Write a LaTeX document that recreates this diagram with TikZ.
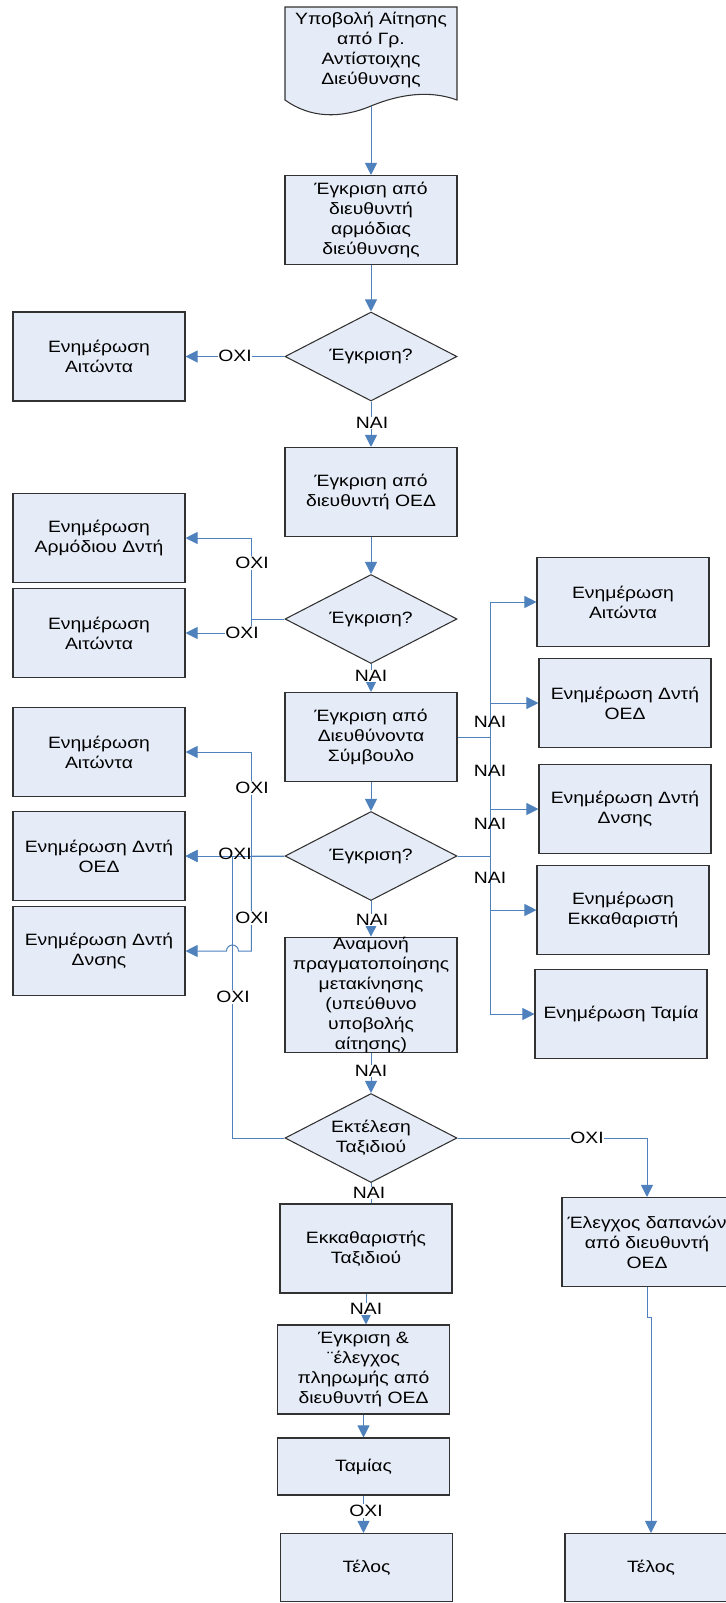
\documentclass[tikz,border=0pt]{standalone}
\usepackage{fontspec}
\setmainfont{Liberation Sans}[FakeStretch=1.18]
\usetikzlibrary{shapes.geometric,arrows.meta}
\definecolor{boxfill}{RGB}{230,236,247}
\definecolor{boxline}{RGB}{50,50,50}
\definecolor{conn}{RGB}{79,129,189}
\begin{document}
\begin{tikzpicture}[x=0.75pt,y=-0.75pt,
  font=\fontsize{12.3pt}{15pt}\selectfont,
  box/.style={draw=boxline, fill=boxfill, line width=0.8pt, minimum width=129pt, minimum height=66.75pt, align=center, inner sep=0pt},
  dia/.style={diamond, draw=boxline, fill=boxfill, line width=0.8pt, minimum width=129pt, minimum height=66.75pt, align=center, inner sep=0pt, aspect=1.93},
  arr/.style={draw=conn, line width=0.75pt, -{Triangle[length=9pt,width=9pt]}},
  ln/.style={draw=conn, line width=0.75pt},
  lab/.style={fill=white, inner sep=0.6pt},
  labt/.style={inner sep=0.6pt}]
\useasboundingbox (0,0) rectangle (725,1603);

% document shape
\filldraw[fill=boxfill, draw=boxline, line width=0.8pt] (285,7) -- (457,7) -- (457,100)
  .. controls (430,90) and (400,94) .. (371,106)
  .. controls (340,119) and (310,118) .. (285,100) -- cycle;
\node[align=center, inner sep=0pt] (doc) at (371,50) {Υποβολή Αίτησης\\από Γρ.\\Αντίστοιχης\\Διεύθυνσης};
\coordinate (docb) at (371,106);

% main column
\node[box] (b2) at (371,220) {Έγκριση από\\διευθυντή\\αρμόδιας\\διεύθυνσης};
\node[dia] (d1) at (371,356.5) {Έγκριση?};
\node[box] (L1) at (99,356.5) {Ενημέρωση\\Αιτώντα};
\node[box] (b4) at (371,492) {Έγκριση από\\διευθυντή ΟΕΔ};
\node[dia] (d2) at (371,619) {Έγκριση?};
\node[box] (L2) at (99,538) {Ενημέρωση\\Αρμόδιου Δντή};
\node[box] (L3) at (99,633) {Ενημέρωση\\Αιτώντα};
\node[box] (DS) at (371,737) {Έγκριση από\\Διευθύνοντα\\Σύμβουλο};
\node[dia] (d3) at (371,856) {Έγκριση?};
\node[box] (L4) at (99,752) {Ενημέρωση\\Αιτώντα};
\node[box] (L5) at (99,856) {Ενημέρωση Δντή\\ΟΕΔ};
\node[box] (L6) at (99,951) {Ενημέρωση Δντή\\Δνσης};
\node[box] (R1) at (623,602) {Ενημέρωση\\Αιτώντα};
\node[box] (R2) at (625,703) {Ενημέρωση Δντή\\ΟΕΔ};
\node[box] (R3) at (625,809) {Ενημέρωση Δντή\\Δνσης};
\node[box] (R4) at (623,910) {Ενημέρωση\\Εκκαθαριστή};
\node[box] (R5) at (621,1014) {Ενημέρωση Ταμία};
\node[box, minimum height=79.5pt] (W) at (371,995) {Αναμονή\\πραγματοποίησης\\μετακίνησης\\(υπεύθυνο\\υποβολής\\αίτησης)};
\node[dia] (d4) at (371,1138) {Εκτέλεση\\Ταξιδιού};
\node[box, minimum width=127.5pt] (E) at (647,1242) {Έλεγχος δαπανών\\από διευθυντή\\ΟΕΔ};
\node[box] (K) at (366,1248.5) {Εκκαθαριστής\\Ταξιδιού};
\node[box] (P) at (363.5,1369.5) {Έγκριση \&\\¨έλεγχος\\πληρωμής από\\διευθυντή ΟΕΔ};
\node[box, minimum height=42.75pt] (T) at (363.5,1466.5) {Ταμίας};
\node[box, minimum height=51pt] (End1) at (366.5,1567.5) {Τέλος};
\node[box, minimum height=51pt] (End2) at (651,1567.5) {Τέλος};

% connectors
\draw[arr] (docb) -- (b2.north);
\draw[arr] (b2.south) -- (d1.north);
\draw[arr] (d1.west) -- (L1.east);
\draw[arr] (d1.south) -- (b4.north);
\draw[arr] (b4.south) -- (d2.north);
\draw[arr] (d2.west) -- ++(-33,0) |- (L2.east);
\draw[arr] (d2.west) -- ++(-33,0) |- (L3.east);
\draw[arr] (d2.south) -- (DS.north);
\draw[arr] (DS.south) -- (d3.north);
\draw[arr] (d3.west) -- ++(-33,0) |- (L4.east);
\draw[arr] (d3.west) -- (L5.east);
\draw[arr] (d3.west) -- ++(-33,0) -- ++(0,95) -- ++(-13,0)
  arc[start angle=0, end angle=-180, radius=6] -- (L6.east);
\draw[arr] (d4.west) -- ++(-52,0) |- (L5.east);
\draw[arr] (DS.east) -- ++(33,0) |- (R1.west);
\draw[arr] (d3.east) -- ++(33,0) |- (R2.west);
\draw[arr] (d3.east) -- ++(33,0) |- (R3.west);
\draw[arr] (d3.east) -- ++(33,0) |- (R4.west);
\draw[arr] (d3.east) -- ++(33,0) |- (R5.west);
\draw[arr] (d3.south) -- (W.north);
\draw[arr] (W.south) -- (d4.north);
\draw[arr] (d4.east) -| (E.north);
\draw[ln] (d4.south) -- (d4.south |- K.north);
\draw[arr] (K.south) -- (K.south |- P.north);
\draw[arr] (P.south) -- (T.north);
\draw[arr] (T.south) -- (T.south |- End1.north);
\draw[arr] (E.south) -- ++(0,30) -| (End2.north);

% labels
\node[lab] (n1) at (235,356) {ΟΧΙ};
\node[lab] (n2) at (372,423) {ΝΑΙ};
\node[lab] (n3) at (252,563) {ΟΧΙ};
\node[lab] (n4) at (242,633) {ΟΧΙ};
\node[lab] (n5) at (371,676) {ΝΑΙ};
\node[lab] (n6) at (252,788) {ΟΧΙ};
\node[labt] (n7) at (235,854) {ΟΧΙ};
\node[lab] (n8) at (252,918) {ΟΧΙ};
\node[labt] (n9) at (490,722) {ΝΑΙ};
\node[labt] (n10) at (490,771) {ΝΑΙ};
\node[labt] (n11) at (490,824) {ΝΑΙ};
\node[labt] (n12) at (490,878) {ΝΑΙ};
\node[lab] (n13) at (372,920) {ΝΑΙ};
\node[lab] (n14) at (371,1071) {ΝΑΙ};
\node[lab] (n15) at (233,997) {ΟΧΙ};
\node[lab] (n16) at (587,1138) {ΟΧΙ};
\node[lab] (n17) at (369,1193) {ΝΑΙ};
\node[lab] (n18) at (366,1309) {ΝΑΙ};
\node[lab] (n19) at (366,1511) {ΟΧΙ};
\end{tikzpicture}
\end{document}
